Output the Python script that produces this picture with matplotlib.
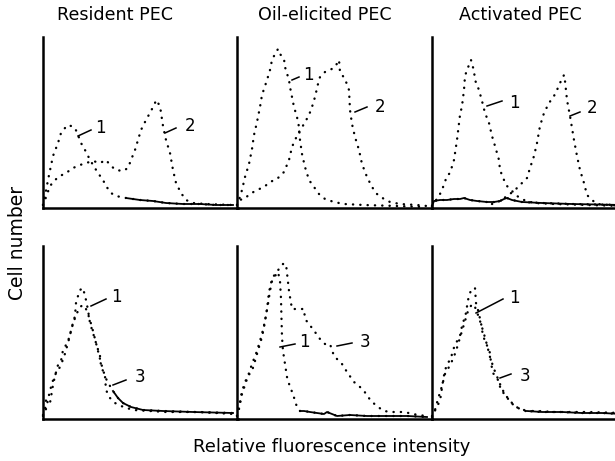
import numpy as np
import matplotlib.pyplot as plt

# panel titles and axis texts
titles = ['Resident PEC', 'Oil-elicited PEC', 'Activated PEC']
xlabel = 'Relative fluorescence intensity'
ylabel = 'Cell number'

# --- top row: resident ---
res1_x = [0, 2, 5, 10, 15, 18, 22, 25, 28, 32, 35, 38, 42, 45, 50, 55, 60, 63, 68, 73, 83, 97, 110, 123, 140, 157, 173, 190]
res1_y = [3, 12, 28, 52, 65, 75, 80, 83, 82, 80, 73, 65, 58, 52, 43, 35, 28, 22, 15, 12, 10, 8, 7, 5, 4, 4, 3, 3]
res2_x = [0, 2, 7, 12, 17, 23, 30, 37, 43, 50, 57, 63, 68, 73, 80, 85, 88, 92, 95, 98, 103, 108, 112, 113, 117, 120, 123, 127, 130, 133, 138, 143, 150, 163, 190]
res2_y = [3, 8, 22, 28, 32, 35, 40, 43, 45, 47, 45, 48, 42, 38, 37, 40, 48, 58, 68, 78, 88, 97, 105, 108, 102, 82, 68, 55, 38, 25, 15, 8, 5, 4, 3]

# --- top row: oil-elicited ---
oil1_x = [0, 2, 5, 8, 12, 15, 17, 20, 23, 25, 27, 30, 33, 35, 38, 41, 43, 47, 48, 52, 53, 55, 57, 60, 62, 63, 65, 68, 72, 77, 82, 88, 97, 107, 127, 160, 187]
oil1_y = [3, 8, 18, 31, 44, 59, 73, 86, 101, 113, 119, 128, 138, 148, 154, 159, 154, 149, 141, 128, 121, 111, 101, 91, 81, 68, 54, 41, 28, 21, 14, 9, 6, 4, 3, 2, 1]
oil2_x = [0, 2, 7, 13, 20, 27, 33, 40, 47, 52, 55, 58, 62, 67, 72, 75, 78, 81, 83, 88, 93, 98, 102, 103, 108, 112, 113, 115, 118, 122, 125, 130, 135, 140, 147, 153, 163, 180, 190]
oil2_y = [3, 8, 9, 14, 18, 21, 26, 29, 36, 48, 61, 68, 76, 84, 93, 101, 111, 124, 131, 136, 138, 141, 148, 136, 129, 118, 98, 84, 71, 58, 44, 31, 21, 14, 9, 6, 4, 3, 2]

# --- top row: activated ---
act0_x = [0, 2, 8, 15, 22, 28, 32, 38, 45, 55, 62, 68, 72, 75, 80, 90, 110, 140, 190]
act0_y = [2, 7, 8, 8, 9, 9, 10, 8, 7, 6, 6, 7, 9, 10, 8, 6, 5, 4, 3]
act1_x = [0, 2, 7, 10, 15, 18, 22, 25, 28, 30, 32, 33, 35, 37, 39, 42, 43, 47, 50, 53, 57, 60, 63, 67, 68, 72, 75, 80, 85, 92, 102, 122, 155, 190]
act1_y = [2, 5, 12, 18, 32, 35, 48, 68, 93, 102, 118, 132, 138, 143, 148, 137, 128, 118, 107, 95, 85, 72, 62, 48, 38, 28, 22, 17, 12, 8, 5, 4, 3, 2]
act2_x = [60, 68, 75, 82, 88, 95, 98, 102, 105, 108, 112, 117, 122, 125, 128, 132, 133, 135, 138, 142, 145, 148, 152, 155, 160, 165, 190]
act2_y = [4, 7, 12, 17, 23, 30, 40, 52, 65, 82, 95, 105, 112, 118, 125, 133, 127, 108, 92, 68, 52, 38, 25, 13, 8, 4, 2]

# --- bottom row: resident ---
resb1_x = [0, 2, 3, 7, 10, 12, 15, 18, 20, 23, 27, 28, 32, 33, 35, 37, 40, 42, 43, 45, 47, 50, 53, 57, 58, 62, 63, 67, 72, 78, 90, 107, 123, 157, 190]
resb1_y = [4, 9, 19, 16, 34, 43, 54, 58, 69, 74, 83, 89, 103, 116, 123, 129, 131, 123, 119, 109, 96, 86, 76, 63, 53, 43, 29, 21, 16, 13, 9, 8, 7, 7, 5]
resb3_x = [0, 3, 6, 9, 13, 17, 21, 25, 29, 33, 37, 40, 43, 46, 49, 52, 55, 58, 61, 64, 67, 70, 75, 80, 88, 100, 120, 150, 190]
resb3_y = [3, 10, 24, 36, 46, 52, 62, 76, 92, 104, 112, 114, 110, 102, 92, 80, 68, 56, 46, 38, 33, 28, 21, 16, 12, 9, 8, 7, 6]

# --- bottom row: oil-elicited ---
oilb1_x = [0, 2, 5, 10, 15, 20, 25, 28, 31, 33, 35, 38, 41, 43, 44, 44.5, 45, 46, 48, 50, 53, 56, 58, 60, 63, 67, 73, 80, 87, 90, 100, 113, 130, 150, 170, 190]
oilb1_y = [3, 10, 25, 40, 55, 68, 85, 98, 115, 128, 138, 143, 147, 138, 120, 100, 82, 68, 55, 42, 32, 25, 18, 12, 8, 8, 7, 6, 5, 7, 3, 4, 3, 3, 3, 2]
oilb3_x = [0, 2, 5, 10, 15, 18, 22, 25, 27, 30, 32, 35, 38, 42, 46, 49, 52, 55, 60, 67, 68, 72, 78, 83, 88, 93, 97, 100, 105, 110, 117, 122, 127, 134, 141, 147, 154, 167, 181, 190]
oilb3_y = [3, 12, 28, 42, 48, 58, 72, 82, 92, 110, 127, 140, 145, 150, 155, 155, 128, 110, 110, 110, 100, 95, 87, 80, 75, 75, 63, 60, 55, 47, 37, 33, 28, 18, 12, 8, 7, 7, 4, 3]

# --- bottom row: activated ---
actb1_x = [0, 1, 4, 8, 11, 13, 16, 19, 21, 24, 28, 29, 31, 34, 36, 39, 43, 44, 46, 49, 51, 54, 58, 59, 61, 66, 69, 74, 79, 86, 93, 106, 123, 139, 156, 190]
actb1_y = [2, 3, 11, 18, 38, 49, 56, 61, 69, 76, 83, 89, 96, 106, 119, 129, 131, 116, 109, 96, 83, 76, 66, 56, 46, 39, 29, 23, 16, 11, 8, 8, 7, 7, 7, 6]
actb3_x = [0, 3, 6, 10, 13, 17, 21, 24, 27, 30, 33, 36, 40, 43, 46, 49, 52, 55, 58, 62, 66, 70, 75, 80, 86, 95, 110, 130, 150, 170, 190]
actb3_y = [3, 9, 20, 33, 45, 52, 60, 68, 78, 88, 98, 108, 115, 112, 104, 95, 85, 74, 62, 50, 40, 30, 22, 16, 11, 8, 7, 7, 6, 6, 5]

# curve number labels: (text, line start, line end, text pos) in panel units
labels = {
    (0, 0): [('1', (35, 72), (48, 78), (52, 80)), ('2', (122, 75), (133, 80), (142, 82))],
    (0, 1): [('1', (55, 128), (62, 131), (66, 133)), ('2', (118, 96), (130, 101), (138, 101))],
    (0, 2): [('1', (55, 102), (70, 107), (77, 105)), ('2', (138, 92), (148, 96), (155, 100))],
    (1, 0): [('1', (48, 113), (63, 120), (68, 122)), ('3', (70, 34), (83, 39), (92, 42))],
    (1, 1): [('1', (43, 72), (58, 75), (62, 77)), ('3', (100, 73), (115, 76), (123, 77))],
    (1, 2): [('1', (44, 106), (71, 120), (77, 121)), ('3', (68, 41), (79, 45), (88, 43))],
}

# (x, y, solid tail starts at this x or None)
curves = {
    (0, 0): [(res1_x, res1_y, 75), (res2_x, res2_y, None)],
    (0, 1): [(oil1_x, oil1_y, None), (oil2_x, oil2_y, None)],
    (0, 2): [(act0_x, act0_y, 0), (act1_x, act1_y, None), (act2_x, act2_y, None)],
    (1, 0): [(resb1_x, resb1_y, None), (resb3_x, resb3_y, 68)],
    (1, 1): [(oilb1_x, oilb1_y, 62), (oilb3_x, oilb3_y, None)],
    (1, 2): [(actb1_x, actb1_y, None), (actb3_x, actb3_y, 90)],
}

plt.rcParams['font.family'] = ['DejaVu Sans']

fig = plt.figure(figsize=(6.15, 4.61), dpi=100)
W, H = 615.0, 461.0
lefts = [43, 237, 432]
row_box = [(37, 208), (246, 419)]   # top / bottom pixel rows of each panel
pw = 195
title_x = [115, 325, 520]

dots = (0, (0.1, 3.0))

for r in range(2):
    top, bot = row_box[r]
    for c in range(3):
        ax = fig.add_axes([lefts[c] / W, 1 - bot / H, pw / W, (bot - top) / H])
        ax.set_xlim(0, pw)
        ax.set_ylim(0, bot - top)
        for s in ['top', 'right']:
            ax.spines[s].set_visible(False)
        ax.spines['left'].set_linewidth(1.8)
        ax.spines['bottom'].set_linewidth(1.8)
        ax.set_xticks([])
        ax.set_yticks([])
        ax.patch.set_alpha(0)

        for x, y, solid_from in curves[(r, c)]:
            x = np.asarray(x, float)
            y = np.asarray(y, float)
            ax.plot(x, y, linestyle=dots, color='black', lw=1.7,
                    dash_capstyle='round', clip_on=False)
            if solid_from is not None:
                m = x >= solid_from
                ax.plot(x[m], y[m], color='black', lw=1.3, clip_on=False)

        for txt, p0, p1, pt in labels[(r, c)]:
            ax.plot([p0[0], p1[0]], [p0[1], p1[1]], color='black', lw=1.1)
            ax.text(pt[0], pt[1], txt, fontsize=12, ha='left', va='center')

for c in range(3):
    fig.text(title_x[c] / W, 1 - 15 / H, titles[c], fontsize=12.6,
             ha='center', va='center')

fig.text(18 / W, 1 - 243 / H, ylabel, rotation=90, fontsize=13.5,
         ha='center', va='center')
fig.text(332 / W, 1 - 447 / H, xlabel, fontsize=13, ha='center', va='center')

fig.savefig('out.png', dpi=100)
